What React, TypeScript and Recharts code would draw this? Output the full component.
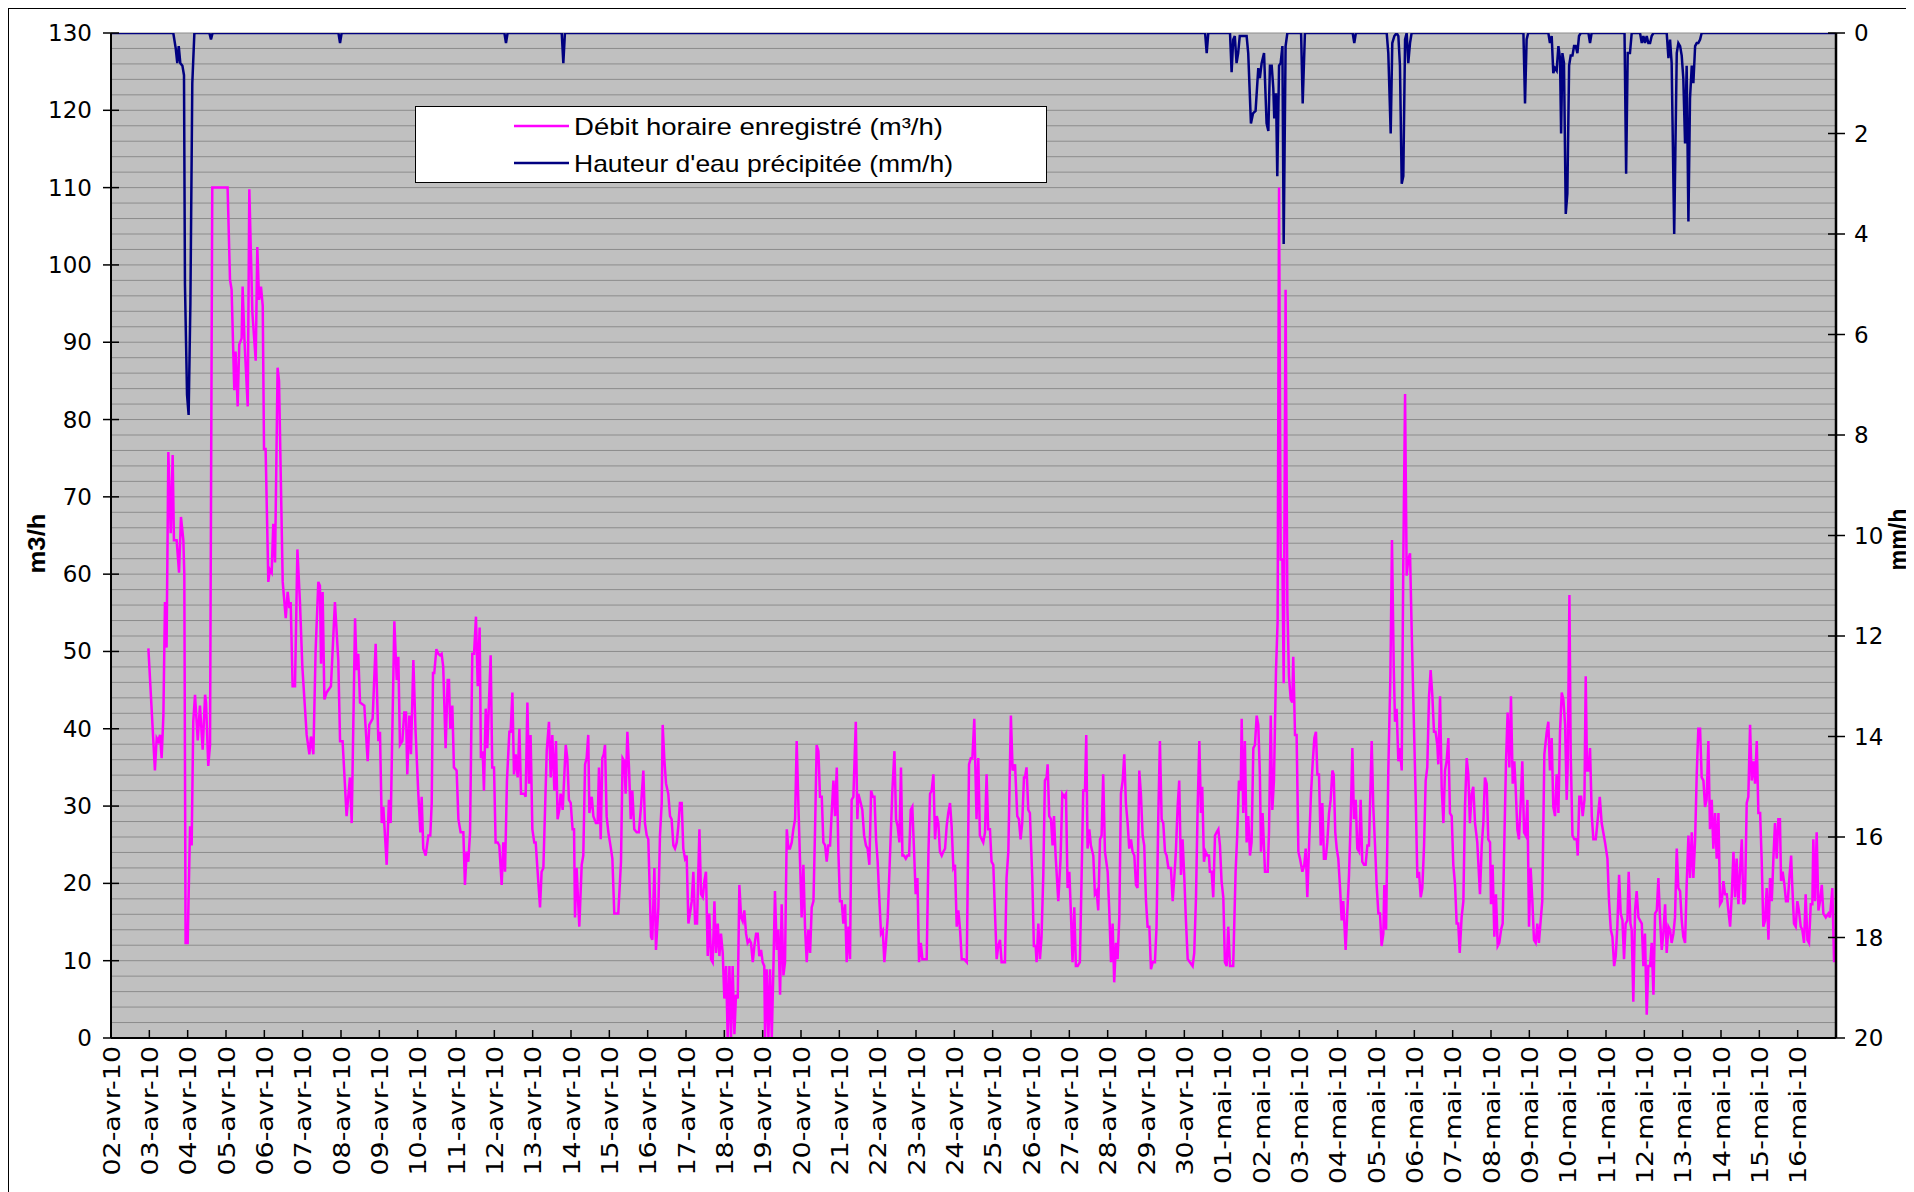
import React from 'react';
import { LineChart, Line, XAxis, YAxis, CartesianGrid, Legend } from 'recharts';

// Day labels (one per day, starting 02-avr-10 at hour 0)
const DAY_LABELS: string[] = [
  '02-avr-10', '03-avr-10', '04-avr-10', '05-avr-10', '06-avr-10', '07-avr-10', '08-avr-10',
  '09-avr-10', '10-avr-10', '11-avr-10', '12-avr-10', '13-avr-10', '14-avr-10', '15-avr-10',
  '16-avr-10', '17-avr-10', '18-avr-10', '19-avr-10', '20-avr-10', '21-avr-10', '22-avr-10',
  '23-avr-10', '24-avr-10', '25-avr-10', '26-avr-10', '27-avr-10', '28-avr-10', '29-avr-10',
  '30-avr-10', '01-mai-10', '02-mai-10', '03-mai-10', '04-mai-10', '05-mai-10', '06-mai-10',
  '07-mai-10', '08-mai-10', '09-mai-10', '10-mai-10', '11-mai-10', '12-mai-10', '13-mai-10',
  '14-mai-10', '15-mai-10', '16-mai-10',
];

const LEFT_TICKS: number[] = [0, 10, 20, 30, 40, 50, 60, 70, 80, 90, 100, 110, 120, 130];
const LEFT_MINOR: number[] = [
  0, 2, 4, 6, 8, 10, 12, 14, 16, 18, 20, 22, 24, 26, 28, 30, 32, 34, 36, 38, 40, 42, 44, 46, 48, 50,
  52, 54, 56, 58, 60, 62, 64, 66, 68, 70, 72, 74, 76, 78, 80, 82, 84, 86, 88, 90, 92, 94, 96, 98,
  100, 102, 104, 106, 108, 110, 112, 114, 116, 118, 120, 122, 124, 126, 128, 130,
];
const RIGHT_TICKS: number[] = [0, 2, 4, 6, 8, 10, 12, 14, 16, 18, 20];

// Débit horaire enregistré (m3/h): [hour since 02-avr 00:00, value]
const FLOW_POINTS: [number, number][] = [
  [23.4,50.4],[27.5,34.6],[28.6,38.8],[29.6,38.4],[30.7,39.2],[31.7,36.2],[32.8,41.7],[33.8,56.4],[34.8,50.5],[35.9,75.8],[37.4,65.3],[38.6,75.4],[39.4,64.4],[41.1,64.4],[42.6,60.2],[43.8,67.4],[45.3,64.4],[45.9,60],[46.7,12.3],[48,12.3],[49.5,27.4],[50.5,24.9],[51.5,40.9],[52.6,44.4],[54.3,38.5],[55.7,43],[57.4,37.3],[58.9,44.4],[59.5,43.4],[60.9,35.2],[62,37.9],[63.4,110],[73,110],[74.5,98.1],[75.5,96.8],[77.2,83.8],[78,88.8],[79.3,81.7],[80.3,89.7],[81.8,90.5],[82.4,97.2],[83.5,90.5],[85.6,81.7],[86.6,109.8],[88.5,93.9],[90.6,87.6],[91.6,102.3],[92.7,95.5],[93.9,97.2],[95,94.7],[95.8,76.2],[96.8,76.2],[98.5,59],[99.5,60.6],[100.6,60.2],[101.6,66.5],[102.7,61.5],[104.3,86.7],[105.2,85],[107.5,59],[109.4,54.3],[110.6,57.7],[111.7,55.6],[112.5,56.4],[113.7,45.5],[115.2,45.5],[116.7,63.2],[118.3,56.4],[119.8,48],[122.5,39.2],[124.2,36.7],[125.2,39],[126.7,36.7],[128.1,50.1],[129.8,59],[130.8,58.5],[131.5,48.4],[132.5,57.7],[133.6,43.8],[135,44.7],[137.7,45.5],[140.2,56.4],[142.3,48.9],[143.4,38.4],[145,38.4],[147.5,28.7],[149.6,33.7],[150.7,27.8],[152.8,54.3],[153.8,47.6],[154.8,49.7],[155.9,43.4],[158.6,43],[160.7,35.8],[161.7,40.5],[163.8,41.3],[165.7,51],[167.4,38.4],[168.4,39.6],[169.5,27.8],[170.5,29.9],[172.6,22.4],[174,30.8],[175.1,27.8],[177.4,53.9],
  [178.9,46.3],[179.9,49.3],[180.9,37.9],[182.4,38.4],[183.6,42.1],[184.7,42.1],[185.5,34.1],[186.8,41.7],[187.8,36.7],[189.3,48.9],[190.7,39.6],[192.4,31.6],[193.7,26.6],[194.5,31.2],[195.5,24.5],[197,23.6],[198.7,26.2],[199.9,26.2],[200.8,30.4],[201.6,47.2],[202.4,47.2],[203.7,50.3],[204.9,49.7],[206,49.5],[207,49.7],[208,48],[209.5,37.5],[210.8,46.3],[211.6,46.3],[212.4,40],[213.7,43],[214.7,35],[216.4,34.6],[217.5,28.3],[218.9,26.6],[220.6,26.6],[221.6,19.8],[222.7,24.1],[223.7,22.8],[224.8,26.6],[226.2,49.7],[227.3,49.7],[228.5,54.5],[229.6,45.5],[230.8,53.1],[231.6,36.2],[232.7,37.1],[233.5,32],[234.6,42.6],[235.6,37.5],[237.7,49.5],[238.7,35],[239.8,35],[240.8,25.3],[242.1,25.3],[243.1,24.9],[244.6,19.8],[245.6,25.3],[246.7,21.5],[247.9,33.3],[249.4,39.6],[250.2,39.6],[251.3,44.7],[252.3,34.1],[253.4,36.7],[254.6,33.7],[255.7,40],[256.7,31.6],[258.8,31.6],[259.6,31.2],[260.7,43.4],[261.7,32.9],[262.7,39.2],[263.8,27],[265,25.3],[265.9,25.3],[267.1,21.5],[268.6,16.9],[269.6,21.5],[270.7,22],[272.8,37.1],[274.2,40.9],[275.3,33.7],[276.3,39.2],[277.6,32],[278.6,38.4],[279.6,28.3],[280.7,29.5],[281.5,31.6],[282.8,29.5],[284.7,37.9],[285.7,36.2],[286.7,30.8],[287.8,30.4],[289,27],[289.9,27],[290.5,15.6],[291.5,22],[293.2,14.4],[294.7,22.4],[295.7,23.6],[296.8,35.4],[297.8,36.2],[298.8,39.2],[299.5,29.1],[301,31.2],[302,28.7],[303.6,27.8],[304.7,27.8],[305.5,35],[306.6,25.7],[307.6,36.2],[308.5,36.7],[309.3,37.9],[310.3,28.7],[311.4,26.6],[313,24.5],[313.9,23.2],[315.1,16.1],[316.6,16.1],[317.6,16.1],[319.3,22.8],[320.3,36.2],[321.4,35.8],[322.2,31.6],[323.3,39.6],[324.3,35],[325.4,28.3],[326.4,32],[327.6,27],[329.1,26.6],[330.5,26.6],[331.8,29.9],[333.3,34.6],[334.3,27.8],[335.4,26.2],[336.4,25.7],[338.1,13.1],[338.9,12.7],[340.2,22],[341.2,11.4],[342.7,16.9],[343.7,26.2],[344.8,30.4],[345.4,40.5],[346.4,36.2],[347.5,32.9],[348.9,31.6],[350,28.7],[351,28.3],[352.1,24.9],[353.1,24.5],[354.2,25.3],[355.2,27.4],[356.2,30.4],[357.3,30.4],[358.3,24.5],
  [359.4,23.2],[360.4,23.6],[361.5,14.8],[362.5,16.1],[363.6,17.7],[364.6,21.5],[365.7,14.8],[366.9,14.8],[368.4,27],[369.4,18.6],[370.5,18.2],[371.5,20.3],[372.5,21.5],[373.6,10.6],[374.6,16.1],[375.7,10.2],[376.7,9.8],[377.8,17.7],[378.8,11],[379.9,14.8],[380.9,10.6],[381.9,13.5],[383,11],[384,5.1],[385.1,9.3],[386.1,0],[387.2,9.3],[388.2,0],[389.2,9.3],[390.3,0.5],[391.3,5.6],[392.4,5.1],[393.4,19.8],[394.5,15.6],[395.5,15.1],[396.5,16.5],[397.6,13.5],[398.6,12.3],[399.7,12.7],[400.7,12.3],[401.8,9.8],[402.8,11.9],[403.9,13.5],[404.9,13.5],[405.9,10.6],[407,11.4],[408,9.8],[409,9.3],[409.5,0],[410.5,8.9],[411.6,0],[412.6,8.9],[413.7,0],[414.7,8.9],[415.7,19],[416.8,11.4],[417.8,14],[418.9,5.6],[419.9,17.3],[421,8.1],[422,9.8],[423.1,27],[424.1,24.5],[425.1,24.5],[426.2,25.3],[427.2,27],[428.3,28.3],[429.3,38.4],[430.4,29.9],[431.4,22.8],[432.4,15.6],[433.5,22.4],[434.5,14.4],[435.6,9.8],[436.6,14],[437.7,11],[438.7,16.9],[439.8,17.7],[440.8,27],[441.8,37.9],[442.9,37.1],[443.9,31.2],[445,31.2],[446,25.3],[447.1,24.9],[448.1,22.8],[449.1,24.9],[450.2,24.9],[451.2,29.1],[452.3,33.3],[453.3,28.7],[454.4,35],[455.4,24.1],[456.4,17.7],[457.5,17.7],[458.5,14.8],[459.6,17.3],[460.6,9.8],[461.7,14.4],[462.7,10.2],[463.7,30.8],[464.8,31.2],[466.3,40.9],[467.3,28.3],[467.9,31.6],[469.4,30.4],[470.4,29.5],[471.5,26.2],[472.7,24.9],[473.7,24.5],[474.8,22.4],[475.9,32],[476.9,31.2],[478,31.2],[479,25.7],[480,22.8],[481.1,17.7],[482.1,13.5],[483.2,13.9],[484.2,9.8],[485.2,12.3],[486.3,15.6],[487.8,24.1],[489.2,32],[490.5,37.1],[491.5,28.3],[492.5,27.4],[493.6,25.3],[494.6,35],[495.5,23.6],[496.5,23.6],[497.6,23.2],[498.6,23.6],[499.7,23.6],[500.7,29.5],[501.7,29.9],[502.8,24.1],[503.8,18.6],[504.9,20.7],[505.9,9.8],[507,12.3],[508,10.2],[509.7,10.2],[510.7,10.2],[511.8,24.1],[512.8,31.6],[513.8,32],[514.9,34.1],[515.9,25.7],[517,28.7],[518,27.8],[519,24.1],[520.1,23.6],[521.1,24.1],[522.2,24.5],[523.2,27.4],[524.2,29.1],[525.3,30.4],[526.3,27.4],[527.4,22],[528.4,22.4],[529.5,14.4],[530.5,16.5],[531.6,14],[532.6,10.2],[534.1,10.2],[535.8,9.8],[537.2,35.4],[538.3,36.2],[539.3,36.2],[540.5,41.3],
  [541.9,28.3],[543,36.2],[544,26.2],[546.1,25.3],[547.2,26.6],[548.2,34.1],[549.2,27],[550.3,27],[551.3,22.8],[552.4,22.4],[553.4,16.5],[554.5,10.2],[555.5,11.9],[556.6,12.7],[557.6,9.8],[559.7,9.8],[560.7,20.7],[561.8,24.1],[563.4,41.7],[564.5,34.6],[566,35.4],[567.4,28.7],[568.4,28.3],[569.5,25.7],[570.5,27.8],[571.6,33.7],[572.2,33.7],[573.2,35],[574.3,29.5],[575.3,29.1],[576.8,20.7],[577.8,11.9],[578.9,11.9],[579.5,9.8],[580.6,14.8],[581.6,10.2],[582.6,13.1],[583.7,21.1],[584.7,33.3],[585.8,33.7],[586.4,35.4],[587.4,28.7],[588.5,28.3],[589.5,24.9],[590.4,28.7],[591.4,23.6],[593.1,17.7],[594.5,23.2],[595.6,31.6],[596.8,31.2],[597.9,31.6],[598.9,19.4],[600,21.5],[601,16.1],[602,9.8],[603.1,16.9],[604.1,9.3],[605.2,9.3],[606.6,9.8],[607.7,21.1],[608.7,32],[609.8,32],[610.6,39.2],[611.4,24.5],[612.5,27],[613.5,24.9],[615,23.6],[616,18.6],[617.1,19],[618.1,16.5],[619.2,25.7],[620.2,26.2],[621.2,34.1],[622.3,24.1],[624,21.5],[625,16.5],[626.1,9.8],[627.1,14.8],[628.1,7.2],[629.2,12.3],[630.2,10.2],[631.3,15.6],[632.3,31.6],[633.4,33.3],[634.4,36.7],[635.4,30.4],[636.5,27.8],[637.5,24.5],[638.6,25.7],[639.6,24.1],[640.7,23.6],[641.7,19.8],[642.7,19.4],[643.8,34.6],[644.8,31.6],[645.9,26.2],[646.9,24.9],[648,17.7],[649,14.4],[650.1,14.4],[651.1,8.9],[652.2,9.8],[653.6,9.8],[654.6,14.4],[655.7,28.7],[656.7,38.4],[657.8,28.3],[658.8,27.8],[659.9,24.1],[660.9,23.6],[662,22],[663.6,22],[664.7,17.7],[665.7,20.7],[666.7,24.1],[667.8,29.9],[668.8,33.3],[669.9,21.1],[670.9,25.7],[672,20.7],[673,15.2],[674.1,10.2],[675.5,9.8],[677.2,9.3],[678.2,11],[679.3,18.2],[680.3,29.5],[681.4,38.4],[682.4,29.1],[683.2,32.5],[684.3,22.8],[685.3,24.1],[686.4,23.6],[687.4,23.6],[688,21.5],[689.1,21.5],[690.1,18.2],[691.2,26.2],[692.2,26.6],[693.3,27],[694.3,24.9],[695.3,20.3],[696.4,18.2],[697.4,9.8],[698.5,9.3],[699.5,14.4],[700.6,9.3],[702.6,9.3],[704.1,21.5],[705.1,26.2],[706.2,33.3],[707.3,32],[707.9,41.3],[708.9,29.1],[709.9,38.4],[711,25.3],[712,28.7],[713.1,23.6],[714.1,25.3],[715.2,37.5],[716.2,37.9],[717.3,41.7],[718.3,40.5],[719.3,34.1],[720,24.1],[721,29.1],
  [722.5,21.5],[724.2,21.5],[725,26.6],[726.1,41.7],[727.1,29.5],[728.1,33.3],[729.4,47.6],[730.4,53.9],[731.3,110],[732.3,61.9],[733.4,61.9],[734.2,45.9],[735.4,96.8],[736.5,56],[737.5,46.8],[738.6,43.8],[739.6,43.4],[740.2,49.3],[741.3,39.2],[742.3,39.2],[743.4,24.1],[744.4,23.2],[745.9,21.5],[747.1,22.4],[748,24.5],[749,18.2],[750.1,24.9],[751.3,31.6],[752.3,35.4],[753.4,38.8],[754.4,39.6],[755.3,34.1],[756.3,34.1],[757.4,24.9],[758.4,30.4],[759.4,23.2],[760.5,23.2],[761.5,25.3],[762.6,29.1],[763.6,30.8],[764.7,34.6],[765.5,34.1],[766.5,26.6],[767.4,24.5],[768.4,23.2],[769.5,19.4],[770.5,15.2],[771.5,17.7],[773,11.4],[774,16.1],[775.1,21.1],[776.1,27.8],[777.2,37.5],[778.2,28.3],[779.3,30.8],[780.3,24.5],[781.4,24.1],[782.4,30.8],[783.4,22.8],[784.5,22.4],[785.5,22.4],[786.6,24.9],[787.6,24.9],[789.3,38.4],[790.3,29.9],[791.4,24.9],[792.4,19.8],[793.5,16.1],[794.5,16.1],[795.5,11.9],[796.6,13.5],[797.2,19.8],[798.3,14],[799.7,34.6],[801,46.8],[802,64.4],[803.1,48],[803.9,40.9],[804.9,42.6],[806,35.8],[807,37.5],[808.1,34.6],[809.1,61.9],[810.2,83.3],[811.2,59.8],[812.2,61.9],[813.3,62.7],[814.3,53.1],[815.8,40],[816.8,31.6],[817.9,20.7],[818.9,21.5],[820,18.2],[821,19.4],[822.1,24.9],[823.1,33.3],[824.1,35],[825.2,44.2],[826.2,47.6],[827.3,44.2],[828.3,39.6],[829.3,39.6],[830.4,37.9],[831,35.4],[832.1,44.2],[833.1,32.5],[834.2,27.8],[835.2,34.6],[836.2,35.8],[837.3,38.8],[838.3,29.1],[839.4,28.7],[840.4,22.4],[841.5,19.8],[842.5,14.8],[843.5,14.8],[844.4,11],[845.6,15.6],[846.7,17.7],[847.7,29.9],[848.8,36.2],[849.8,34.1],[850.8,27.8],[851.9,31.6],[852.9,32.5],[854,27.8],[855.4,25.3],[857.1,18.6],[858.2,24.9],[859.2,27.8],[860.2,33.7],[861.3,32.9],[862.3,25.7],[863.4,25.3],[864,17.3],[865,22.4],[866.1,13.1],[867.1,18.6],[868.2,11.9],[869.2,12.3],[870.3,14],[871.3,14.8],[872.3,24.9],[873.4,35.8],[874.4,42.1],[875.5,35],[876.5,44.2],[877.6,32.9],[878.6,35.8],[879.4,32.5],[880.5,27],[881.5,25.7],[882.6,30.4],[883.6,35.8],[884.7,26.6],[885.7,26.2],[886.8,30.8],[887.8,14.4],[888.8,22],[889.9,17.7],[890.9,12.7],[892,12.3],[893,14.8],[894,12.3],[895.1,15.2],[896.1,17.7],[897.4,36.7],[898.9,39.6],[899.9,40.9],[900.9,34.6],[902,38.8],[903,29.9],
  [904.1,28.7],[905.1,34.1],[906.2,29.1],[907.2,39.6],[908.3,44.7],[909.3,43.8],[910.4,40.5],[911.4,30.8],[912,35],[913.1,57.3],[913.9,36.7],[915,26.2],[916.2,25.7],[917.7,25.7],[918.3,23.6],[919.3,31.2],[920.4,31.2],[921.4,28.7],[922.5,30.8],[923.3,46.8],[924.1,34.6],[925,34.6],[926,37.5],[927.1,28.7],[928.1,25.7],[929.6,25.7],[930.6,27.8],[932.1,31.2],[933.3,27.8],[935.4,25.3],[936.9,23.2],[937.9,17.7],[939,14],[940,13.1],[941.1,9.3],[942.1,10.6],[943.1,14.4],[944.2,21.1],[945.2,16.1],[946.3,15.2],[947.3,10.2],[948.3,14.8],[949.4,15.2],[950.2,21.5],[951.3,14.8],[952.1,14],[953.1,4.7],[954.2,16.5],[955.2,19],[956.3,15.6],[957.3,15.2],[958.4,14.8],[959.4,9.3],[960.4,13.5],[961.5,3],[962.5,9.3],[963.6,9.3],[964.6,12.3],[965.7,5.6],[966.7,16.1],[967.8,16.5],[968.8,20.7],[969.8,15.6],[970.9,11.4],[971.9,13.5],[973,17.3],[974,11],[975.1,14.4],[976.1,14],[977.1,12.3],[978.2,13.5],[979.2,15.6],[980.3,24.5],[981.3,19.4],[982.4,19],[983.4,15.2],[984.4,13.1],[985.5,12.3],[986.5,19.8],[987.6,26.2],[988.6,20.7],[989.7,26.6],[990.7,20.7],[991.8,25.7],[992.8,34.1],[993.8,40],[994.9,40],[995.9,33.7],[997,33.3],[998,29.9],[999,30.8],[1000.1,38.4],[1001.1,27],[1002.2,30.8],[1003.2,24.5],[1004.3,29.1],[1005.3,23.2],[1006.4,29.1],[1007.4,17.3],[1008.5,17.7],[1009.5,20.3],[1010.5,18.6],[1011.6,18.6],[1012.6,16.5],[1013.7,14.4],[1014.7,18.2],[1015.8,24.1],[1016.8,18.2],[1017.8,23.2],[1018.9,17.3],[1019.9,21.5],[1021,25.7],[1022,17.3],[1023,17.7],[1024.1,30.4],[1025.1,31.2],[1026.2,40.5],[1027.2,33.3],[1028.3,35.8],[1029.3,32.9],[1030.4,38.4],[1031.4,29.1],[1032.5,29.1],[1033.5,22.8],[1034.5,14.4],[1035.6,15.2],[1036.6,19.4],[1037.7,12.7],[1038.7,20.7],[1039.8,17.7],[1040.8,23.2],[1041.8,27.8],[1042.9,23.2],[1043.9,28.3],[1044.9,28.3],[1045.6,20.3],[1046.6,21.5],[1047.7,19.8],[1048.7,17.7],[1049.8,17.7],[1050.8,20.7],[1051.9,23.6],[1052.6,19.8],[1053.7,14.8],[1054.8,14.4],[1055.8,17.7],[1056.8,16.5],[1057.9,14.4],[1058.9,14],[1060,12.3],[1061,18.6],[1062.1,12.7],[1063.1,12.3],[1064.2,17.3],[1065.2,17.3],[1065.8,25.7],[1066.9,17.7],[1067.9,26.6],[1069,16.5],[1070,17.7],[1071.1,19.8],[1072.1,16.1],[1073.6,15.6],[1075.2,16.1],[1076.2,15.6],[1077.7,19.4],[1078.8,9.8],
];

// Hauteur d'eau précipitée (mm/h): [hour since 02-avr 00:00, value]
const RAIN_POINTS: [number, number][] = [
  [0,0],[39,0],[40.5,0.3],[41.5,0.6],[42.4,0.26],[43.4,0.6],[44.7,0.65],[45.7,0.84],[46.3,5.0],[47.6,7.2],[48.6,7.6],[49.7,5.4],[50.9,1.0],[52.2,0],
  [61.6,0],[62.6,0.13],[63.6,0],[142.4,0],[143.4,0.2],[144.4,0],[246.3,0],[247.3,0.2],[248.3,0],[282.2,0],[283.2,0.6],[284.2,0],
  [685,0],[686,0.4],[687,0],[700.6,0],[701.6,0.78],[702.6,0.13],[703.6,0.06],[704.7,0.6],[705.7,0.4],[706.7,0.06],[711,0.06],[712,0.4],[713.7,1.8],[715,1.6],[716.6,1.55],[718.3,0.7],[719.3,0.9],[720.4,0.6],[721.9,0.4],[723.5,1.8],[724.6,1.95],[725.6,0.65],[726.7,0.65],[727.7,1.1],[728.3,1.7],[729.4,1.2],[730.2,2.85],[731.3,0.65],[732.3,0.6],[733.4,0.26],[734.2,4.2],[735.4,0.26],[736.5,0],
  [745.1,0],[746.1,1.4],[747.5,0],[777.4,0],[778.4,0.2],[779.4,0],
  [798.7,0],[799.7,0.4],[801.2,2.0],[802.2,0.2],[803.5,0.06],[804.9,0],[806,0.06],[807,0.65],[808.1,3.0],[809.1,2.85],[810.2,0.13],[811.2,0],[812.2,0.6],[813.3,0.2],[814.3,0],
  [884.3,0],[885.3,1.4],[886.3,0.13],[887.3,0],
  [899.9,0],[900.9,0.2],[902,0.06],[903,0.8],[904.1,0.7],[905.1,0.75],[906.2,0.26],[907.2,0.5],[907.9,2.0],[908.7,0.4],[909.7,0.6],[910.8,3.6],[911.8,3.2],[912.9,0.65],[913.9,0.45],[915,0.45],[916,0.26],[917,0.26],[918.1,0.4],[919.1,0.06],[920.2,0],
  [925,0],[926,0.2],[927,0],[947.6,0],[948.6,2.8],[949.6,0.4],[951,0.4],[952.1,0],
  [957.3,0],[958.4,0.2],[959.4,0.06],[960.4,0.2],[961.5,0.06],[962.5,0.2],[963.6,0.2],[964.6,0.06],[965.7,0],
  [974,0],[975.1,0.5],[976.1,0.13],[977.1,0.6],[978.7,4.0],[980.3,0.4],[981.3,0.2],[982.4,0.26],[983.4,0.45],[984.4,0.9],[985.5,2.2],[986.5,0.65],[987.6,3.75],[988.6,1.3],[989.7,0.65],[990.7,1.0],[991.8,0.26],[992.8,0.2],[993.8,0.2],[994.9,0.13],[995.9,0],[1080,0],
];

const flowData = FLOW_POINTS.map(([h, v]) => ({ h, flow: v }));
const rainData = RAIN_POINTS.map(([h, v]) => ({ h, rain: v }));
const xTicks = DAY_LABELS.map((_, i) => i * 24);

const TICK_FONT = "'DejaVu Sans', Verdana, sans-serif";
const TEXT_FONT = "'Liberation Sans', Arial, sans-serif";

const LeftTick = (props: any) => {
  const { x, y, payload } = props;
  return (
    <g>
      <line x1={x - 8} x2={x + 8} y1={y} y2={y} stroke="#000" strokeWidth={1.5} />
      <text x={x - 19} y={y} textAnchor="end" dominantBaseline="central" fontFamily={TICK_FONT} fontSize={23} fill="#000">
        {payload.value}
      </text>
    </g>
  );
};

const RightTick = (props: any) => {
  const { x, y, payload } = props;
  return (
    <g>
      <line x1={x - 8} x2={x + 9} y1={y} y2={y} stroke="#000" strokeWidth={1.5} />
      <text x={x + 18} y={y} textAnchor="start" dominantBaseline="central" fontFamily={TICK_FONT} fontSize={23} fill="#000">
        {payload.value}
      </text>
    </g>
  );
};

const BottomTick = (props: any) => {
  const { x, y, payload } = props;
  const label = DAY_LABELS[Math.round(payload.value / 24)] ?? '';
  return (
    <g>
      <line x1={x} x2={x} y1={y - 8} y2={y} stroke="#000" strokeWidth={1.5} />
      <text
        transform={`translate(${x + 1},${y + 8}) rotate(-90) scale(1.17,1)`}
        x={0}
        y={0}
        textAnchor="end"
        dominantBaseline="central"
        fontFamily={TICK_FONT}
        fontSize={23}
        fill="#000"
      >
        {label}
      </text>
    </g>
  );
};

const LeftTitle = (props: any) => {
  const vb = props.viewBox || { x: 0, y: 0, width: 0, height: 0 };
  const cx = 27.5;
  const cy = vb.y + vb.height / 2 + 8;
  return (
    <text
      transform={`translate(${cx},${cy}) rotate(-90)`}
      textAnchor="middle"
      dominantBaseline="central"
      fontFamily={TEXT_FONT}
      fontWeight="bold"
      fontSize={24}
      textLength={60}
      lengthAdjust="spacingAndGlyphs"
      fill="#000"
    >
      m3/h
    </text>
  );
};

const RightTitle = (props: any) => {
  const vb = props.viewBox || { x: 0, y: 0, width: 0, height: 0 };
  const cx = vb.x + 62;
  const cy = vb.y + vb.height / 2 + 4;
  return (
    <text
      transform={`translate(${cx},${cy}) rotate(-90)`}
      textAnchor="middle"
      dominantBaseline="central"
      fontFamily={TEXT_FONT}
      fontWeight="bold"
      fontSize={23}
      textLength={62}
      lengthAdjust="spacingAndGlyphs"
      fill="#000"
    >
      mm/h
    </text>
  );
};

const LegendBox = () => (
  <div
    style={{
      width: 632,
      height: 77,
      boxSizing: 'border-box',
      border: '1px solid #000',
      background: '#fff',
    }}
  >
    <svg width={630} height={75} style={{ display: 'block' }}>
      <line x1={98} x2={153} y1={19} y2={19} stroke="#FF00FF" strokeWidth={2.5} />
      <text x={158} y={19} dominantBaseline="central" fontFamily={TEXT_FONT} fontSize={24} textLength={369} lengthAdjust="spacingAndGlyphs" fill="#000">
        Débit horaire enregistré (m³/h)
      </text>
      <line x1={98} x2={153} y1={56} y2={56} stroke="#000080" strokeWidth={2.5} />
      <text x={158} y={56} dominantBaseline="central" fontFamily={TEXT_FONT} fontSize={24} textLength={379} lengthAdjust="spacingAndGlyphs" fill="#000">
        Hauteur d'eau précipitée (mm/h)
      </text>
    </svg>
  </div>
);

export default function App() {
  return (
    <>
      <style>{'html,body{overflow:hidden;}'}</style>
      <div
        style={{
          position: 'relative',
          width: 1906,
          height: 1184,
          boxSizing: 'border-box',
          borderTop: '1px solid #000',
          borderLeft: '1px solid #000',
          background: '#fff',
        }}
      >
        <LineChart width={1905} height={1183} margin={{ top: 24, right: 0, bottom: 0, left: 0 }}>
          <CartesianGrid
            horizontalValues={LEFT_MINOR}
            vertical={false}
            stroke="#8c8c8c"
            strokeWidth={1}
            fill="#C0C0C0"
            fillOpacity={1}
          />
          <XAxis
            dataKey="h"
            type="number"
            domain={[0, 1080]}
            ticks={xTicks}
            interval={0}
            tickSize={0}
            tickMargin={0}
            height={154}
            tick={<BottomTick />}
            tickLine={false}
            axisLine={{ stroke: '#000', strokeWidth: 2 }}
            allowDataOverflow
          />
          <YAxis
            type="number"
            domain={[0, 130]}
            ticks={LEFT_TICKS}
            interval={0}
            width={102}
            tickSize={0}
            tickMargin={0}
            tick={<LeftTick />}
            tickLine={false}
            axisLine={{ stroke: '#000', strokeWidth: 2 }}
            label={<LeftTitle />}
            allowDataOverflow
          />
          <YAxis
            yAxisId="right"
            orientation="right"
            type="number"
            domain={[0, 20]}
            reversed
            ticks={RIGHT_TICKS}
            interval={0}
            width={78}
            tickSize={0}
            tickMargin={0}
            tick={<RightTick />}
            tickLine={false}
            axisLine={{ stroke: '#000', strokeWidth: 2.5 }}
            label={<RightTitle />}
            allowDataOverflow
          />
          <Legend
            layout="vertical"
            align="center"
            verticalAlign="middle"
            content={<LegendBox />}
            wrapperStyle={{ left: 406, top: 97, width: 632, height: 77 }}
          />
          <Line
            data={rainData}
            yAxisId="right"
            dataKey="rain"
            type="linear"
            stroke="#000080"
            strokeWidth={2.5}
            dot={false}
            activeDot={false}
            isAnimationActive={false}
          />
          <Line
            data={flowData}
            dataKey="flow"
            type="linear"
            stroke="#FF00FF"
            strokeWidth={2.5}
            dot={false}
            activeDot={false}
            isAnimationActive={false}
          />
        </LineChart>
      </div>
    </>
  );
}
